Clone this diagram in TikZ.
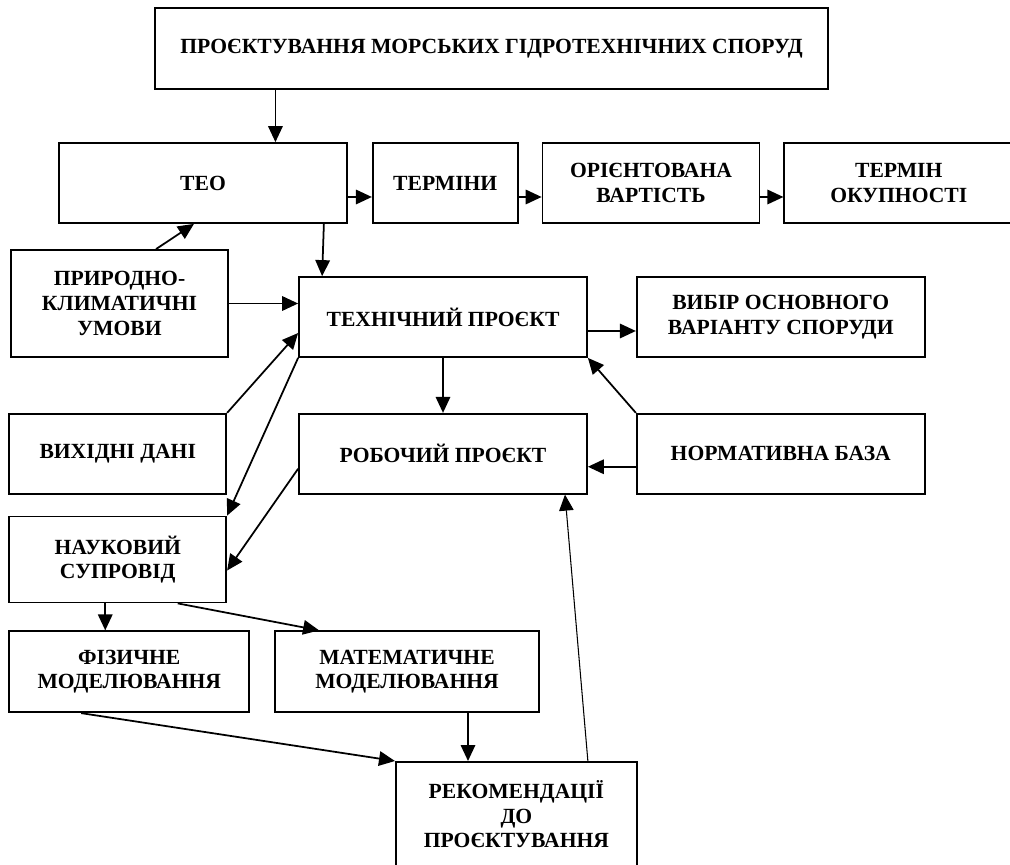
\documentclass[tikz,border=0pt]{standalone}
\usepackage{fontspec}
\setmainfont{Liberation Serif}
\usetikzlibrary{arrows.meta, positioning, calc}

\begin{document}
\begin{tikzpicture}[
		node distance=0.48cm,
		block/.style={
			draw,
			line width=1pt,
			align=center,
			minimum height=1.6cm,
			inner sep=2pt,
			font=\fontsize{12.3}{14}\selectfont\bfseries
		},
		arrow/.style={-{Triangle[length=3.2mm, width=2.9mm]}, line width=1pt},
		thinarrow/.style={-{Triangle[length=3.2mm, width=2.9mm]}, line width=0.6pt}
		]
		
		\useasboundingbox (0,0) rectangle (20.2,-17.3);
		
		\node[block, minimum width=13.46cm, minimum height=1.62cm] (title) at (9.83,-0.97)
		{ПРОЄКТУВАННЯ МОРСЬКИХ ГІДРОТЕХНІЧНИХ СПОРУД};
		
		\node[block, minimum width=5.76cm] (teo) at (4.06,-3.66) {ТЕО};
		
		\node[block, minimum width=2.9cm, right=of teo] (termini) {ТЕРМІНИ};
		
		\node[block, minimum width=4.34cm, right=0.46cm of termini] (vartist)
		{ОРІЄНТОВАНА\\ВАРТІСТЬ};
		
		\node[block, minimum width=4.58cm, right=0.46cm of vartist] (okup)
		{ТЕРМІН\\ОКУПНОСТІ};
		
		\node[block, minimum width=5.76cm] (tekh) at (8.86,-6.34)
		{ТЕХНІЧНИЙ ПРОЄКТ};
		
		\node[block, minimum width=5.76cm, right=0.96cm of tekh] (vybir)
		{ВИБІР ОСНОВНОГО\\ВАРІАНТУ СПОРУДИ};
		
		\node[block, minimum width=5.76cm, below=1.1cm of tekh] (robo)
		{РОБОЧИЙ ПРОЄКТ};
		
		\node[block, minimum width=5.76cm, below=1.1cm of vybir] (norm)
		{НОРМАТИВНА БАЗА};
		
		\node[block, minimum width=4.34cm, minimum height=2.14cm] (pryrod) at (2.39,-6.07)
		{ПРИРОДНО-\\КЛИМАТИЧНІ\\УМОВИ};
		
		\node[block, minimum width=4.34cm, left=1.42cm of robo] (vykh)
		{ВИХІДНІ ДАНІ};
		
		\node[block, minimum width=4.34cm, minimum height=1.72cm, below=0.42cm of vykh] (nauk)
		{НАУКОВИЙ\\СУПРОВІД};
		
		\node[block, minimum width=4.8cm, minimum height=1.62cm,
			below=0.54cm of nauk.south west, anchor=north west] (fiz)
		{ФІЗИЧНЕ\\МОДЕЛЮВАННЯ};
		
		\node[block, minimum width=5.28cm, minimum height=1.62cm, right=of fiz] (mat)
		{МАТЕМАТИЧНЕ\\МОДЕЛЮВАННЯ};
		
		\node[block, minimum width=4.82cm, minimum height=2.1cm, anchor=north west] (rek) at (7.9,-15.22)
		{РЕКОМЕНДАЦІЇ\\ДО\\ПРОЄКТУВАННЯ};
		
		\coordinate (teoin) at ($(teo.north west)!0.75!(teo.north east)$);
		
		\draw[arrow] (title.south -| teoin) -- (teoin);
		\draw[arrow] ([yshift=-0.28cm]teo.east) -- ([yshift=-0.28cm]termini.west);
		\draw[arrow] ([yshift=-0.28cm]termini.east) -- ([yshift=-0.28cm]vartist.west);
		\draw[arrow] ([yshift=-0.28cm]vartist.east) -- ([yshift=-0.28cm]okup.west);
		
		\draw[arrow] ([xshift=-0.48cm]teo.south east) -- ([xshift=0.48cm]tekh.north west);
		\draw[arrow] ([xshift=0.73cm]pryrod.north) -- ([xshift=-0.18cm]teo.south);
		\draw[arrow] (pryrod.east) -- (pryrod.east -| tekh.west);
		\draw[arrow] ([yshift=-0.28cm]tekh.east) -- ([yshift=-0.28cm]vybir.west);
		
		\draw[arrow] (vykh.north east) -- ([yshift=-0.32cm]tekh.west);
		\draw[arrow] (tekh.south west) -- (nauk.north east);
		\draw[arrow] (tekh.south) -- (robo.north);
		\draw[arrow] ([yshift=-0.3cm]robo.west) -- ([yshift=-0.22cm]nauk.east);
		
		\draw[arrow] (norm.north west) -- (tekh.south east);
		\draw[arrow] ([yshift=-0.26cm]norm.west) -- ([yshift=-0.26cm]robo.east);
		
		\draw[arrow] ([xshift=-0.25cm]nauk.south) -- ([xshift=-0.25cm]nauk.south |- fiz.north);
		\draw[arrow] ([xshift=1.2cm]nauk.south) -- ([xshift=0.9cm]mat.north west);
		\draw[arrow] ([xshift=-0.96cm]fiz.south) -- (rek.north west);
		\draw[arrow] ([xshift=1.22cm]mat.south) -- ([xshift=1.22cm]mat.south |- rek.north);
		\draw[thinarrow] ([xshift=1.43cm]rek.north) -- ([xshift=2.44cm]robo.south);
		
	\end{tikzpicture}
\end{document}
